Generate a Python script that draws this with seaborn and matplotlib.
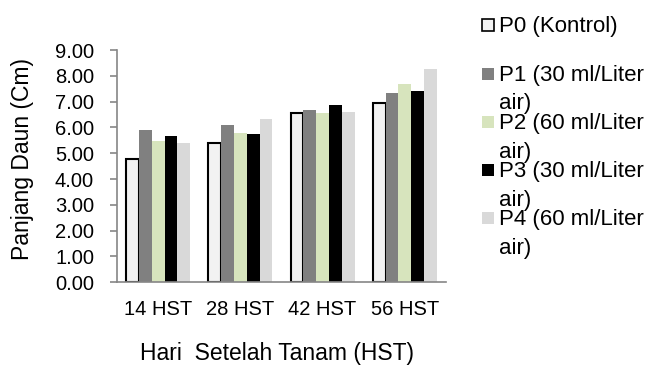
import numpy as np
import pandas as pd
import matplotlib
matplotlib.use("Agg")
import matplotlib.pyplot as plt
import seaborn as sns
from matplotlib.patches import Rectangle

categories = ["14 HST", "28 HST", "42 HST", "56 HST"]
series_names = ["P0 (Kontrol)", "P1 (30 ml/Liter\nair)", "P2 (60 ml/Liter\nair)",
                "P3 (30 ml/Liter\nair)", "P4 (60 ml/Liter\nair)"]
p0 = [4.77, 5.39, 6.55, 6.95]
p1 = [5.89, 6.08, 6.67, 7.33]
p2 = [5.48, 5.79, 6.56, 7.67]
p3 = [5.66, 5.75, 6.85, 7.40]
p4 = [5.39, 6.32, 6.59, 8.27]
colors = ["#f2f2f2", "#808080", "#d7e4bd", "#000000", "#d9d9d9"]
yticks = [0, 1, 2, 3, 4, 5, 6, 7, 8, 9]

rows = []
for name, vals in zip(series_names, [p0, p1, p2, p3, p4]):
    for c, v in zip(categories, vals):
        rows.append({"cat": c, "series": name, "val": v})
df = pd.DataFrame(rows)

sns.set_theme(style="white")
plt.rcParams["font.family"] = ["Liberation Sans", "DejaVu Sans"]

fig = plt.figure(figsize=(6.58, 3.65), dpi=100)
ax = fig.add_axes([117/658, 1 - 282.3/365, (446-117)/658, (282.3-50)/365])

sns.barplot(data=df, x="cat", y="val", hue="series", order=categories,
            hue_order=series_names, palette=colors, width=0.78, gap=0,
            linewidth=0, saturation=1, ax=ax, legend=False, errorbar=None)

for bar in ax.containers[0]:
    bar.set_edgecolor("black")
    bar.set_linewidth(1.5)

ax.set_xlim(-0.5, 3.5)
ax.set_ylim(0, 9)
ax.set_yticks(yticks)
ax.set_yticklabels([f"{t:.2f}" for t in yticks])
gray = "#868686"
for s in ["top", "right"]:
    ax.spines[s].set_visible(False)
for s in ["left", "bottom"]:
    ax.spines[s].set_color(gray)
    ax.spines[s].set_linewidth(1.2)
ax.tick_params(axis="y", left=True, length=5, width=1.2, color=gray, pad=11.5,
               labelsize=14.5, labelcolor="black")
ax.tick_params(axis="x", bottom=False, length=0, pad=12.5, labelsize=14.5,
               labelcolor="black")
ax.set_xlabel("Hari  Setelah Tanam (HST)", fontsize=16.5, color="black")
ax.set_ylabel("Panjang Daun (Cm)", fontsize=16.5, color="black")
ax.xaxis.set_label_coords(0.486, -0.255)
ax.yaxis.set_label_coords(-0.252, 0.53)

# legend drawn manually to mimic wrapped entries
ys = [25, 73.5, 122, 170, 218]
for name, col, yc in zip(series_names, colors, ys):
    r = Rectangle((482/658, 1 - (yc + 6)/365), 12/658, 12/365,
                  transform=fig.transFigure, facecolor=col,
                  edgecolor="black" if col == "#f2f2f2" else "none",
                  linewidth=1.2)
    fig.patches.append(r)
    fig.text(499/658, 1 - (yc - 9)/365, name, fontsize=16, va="top",
             ha="left", linespacing=1.5, color="black")

fig.savefig("out.png", dpi=100)
